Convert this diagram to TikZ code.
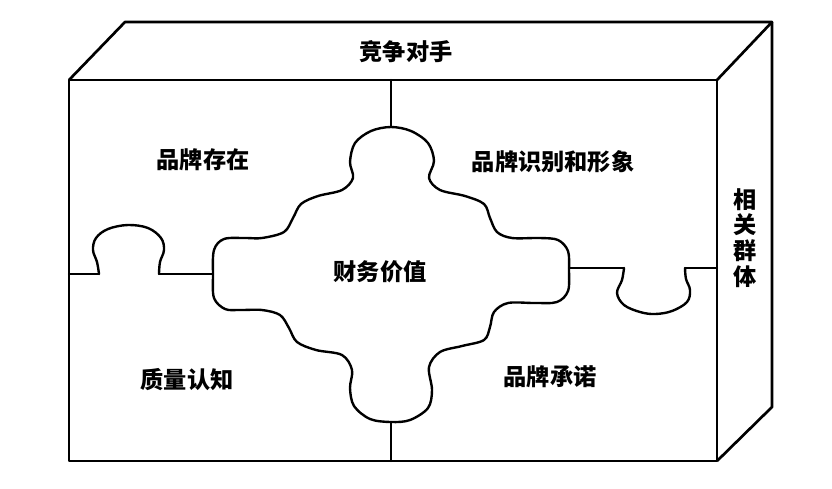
\documentclass[tikz,border=0pt]{standalone}
\usepackage{fontspec}
\usepackage{tikz}
\newfontfamily\cjk{Noto Sans CJK SC}

\begin{document}
\begin{tikzpicture}[x=0.025cm, y=-0.025cm,
    edge/.style={line width=1.9pt, line join=round},
    seam/.style={line width=1.7pt, line join=round, line cap=round},
    lbl/.style={font=\cjk\bfseries\fontsize{16.5}{18.4}\selectfont, inner sep=0pt, align=center}
]
\useasboundingbox (0,0) rectangle (832,488);

%% ── Box (front, top, side) ─────────────────────────────────────────────
\draw[edge] (69,80) rectangle (717,461);
\draw[edge] (69,80) -- (125,22) -- (772,22) -- (717,80);
\draw[edge] (772,22) -- (772,407) -- (717,461);

%% ── Centre piece ───────────────────────────────────────────────────────
\draw[seam] plot[smooth cycle, tension=0.55] coordinates {
  (262,238) (284,232) (293,218) (301,204) (318,196) (342,190)
  (353,178) (350,162) (355,143) (371,131) (391,127) (411,131)
  (428,143) (434,161) (429,178) (440,190) (465,196) (484,204)
  (490,218) (497,232) (512,238) (540,238) (558,240) (568,251)
  (569,270) (568,291) (557,302) (535,303) (508,303) (494,312)
  (490,327) (484,340) (462,346) (440,352) (429,367) (432,390)
  (428,408) (410,420) (391,422) (370,419) (354,406) (350,388)
  (352,370) (342,355) (316,350) (297,342) (289,328) (280,315)
  (262,310) (240,310) (225,309) (214,298) (213,275) (214,250)
  (224,239) (245,238)};

%% ── Seams to the box ───────────────────────────────────────────────────
\draw[seam] (391,80) -- (391,127);
\draw[seam] (391,422) -- (391,461);
\draw[seam] (69,274) -- (99,274);
\draw[seam] (159,274) -- (213,274);
\draw[seam] plot[smooth, tension=0.6] coordinates {
  (99,274) (97,262) (93,250) (96,238) (108,229) (128,225)
  (148,228) (161,238) (164,250) (160,262) (159,274)};
\draw[seam] (569,268) -- (624,268);
\draw[seam] (685,268) -- (717,268);
\draw[seam] plot[smooth, tension=0.6] coordinates {
  (624,268) (622,280) (617,293) (624,305) (640,312) (655,314)
  (672,311) (687,302) (690,290) (686,279) (685,268)};

%% ── Labels ─────────────────────────────────────────────────────────────
\node[lbl] (compet)  at (406,52)  {竞争对手};
\node[lbl] (groups)  at (745,238) {相\\关\\群\\体};
\node[lbl] (exist)   at (203,160) {品牌存在};
\node[lbl] (ident)   at (553,162) {品牌识别和形象};
\node[lbl] (value)   at (380,272) {财务价值};
\node[lbl] (quality) at (187,380) {质量认知};
\node[lbl] (promise) at (550,377) {品牌承诺};
\end{tikzpicture}
\end{document}
